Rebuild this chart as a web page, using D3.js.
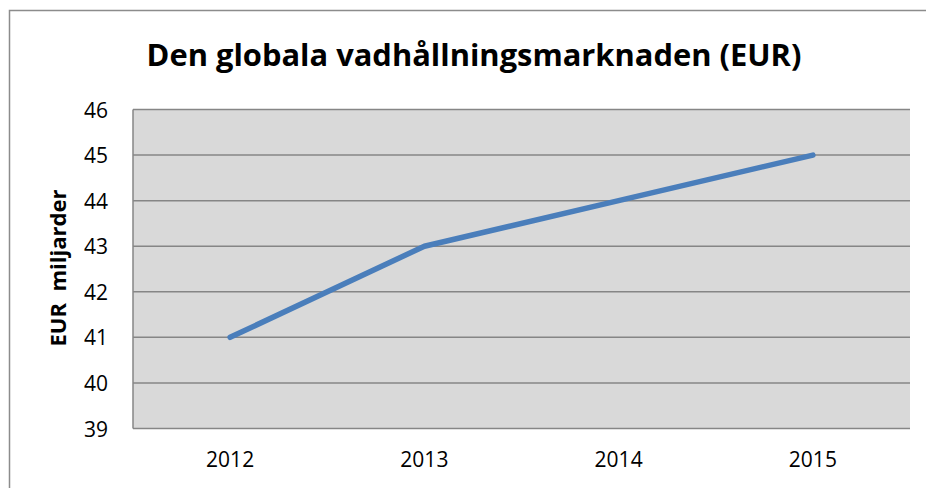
<!DOCTYPE html>
<meta charset="utf-8">
<head>
  <style>
    body { margin: 0; background: #fff; }
    svg { display: block; font-family: "Open Sans", sans-serif; }
    .grid line { stroke: #868686; stroke-width: 1.5px; }
    .tick text { fill: #000; }
  </style>
</head>
<body>
  <script src="https://d3js.org/d3.v7.min.js"></script>
  <div id="chart"></div>
  <script>
    // chart data
    var years = ["2012", "2013", "2014", "2015"];
    var values = [41, 43, 44, 45];
    var yTicks = [39, 40, 41, 42, 43, 44, 45, 46];
    var title = "Den globala vadhållningsmarknaden (EUR)";
    var yLabel = "EUR  miljarder";

    var width = 926, height = 488;
    var plot = { left: 133, right: 910, top: 109.5, bottom: 428.5 };

    var svg = d3.select('#chart').append('svg')
      .attr('width', width)
      .attr('height', height);

    // outer chart border
    svg.append('rect')
      .attr('x', 9.5).attr('y', 10.5)
      .attr('width', 940).attr('height', 500)
      .attr('fill', 'none')
      .attr('stroke', '#8c8c8c')
      .attr('stroke-width', 1.5);

    var x = d3.scaleBand().domain(years).range([plot.left, plot.right]);
    var y = d3.scaleLinear().domain([39, 46]).range([plot.bottom, plot.top]);

    svg.append('rect')
      .attr('x', plot.left).attr('y', plot.top)
      .attr('width', plot.right - plot.left)
      .attr('height', plot.bottom - plot.top)
      .attr('fill', '#d9d9d9');

    // horizontal gridlines
    svg.append('g').attr('class', 'grid')
      .selectAll('line')
      .data(yTicks)
      .enter().append('line')
      .attr('x1', plot.left).attr('x2', plot.right)
      .attr('y1', d => y(d)).attr('y2', d => y(d));

    // left axis line
    svg.append('line')
      .attr('x1', plot.left).attr('x2', plot.left)
      .attr('y1', plot.top).attr('y2', plot.bottom)
      .attr('stroke', '#868686').attr('stroke-width', 1.5);

    var yAxis = svg.append('g')
      .attr('transform', 'translate(' + plot.left + ',0)')
      .call(d3.axisLeft(y).tickValues(yTicks).tickSize(0).tickPadding(25).tickFormat(d3.format('d')));
    yAxis.attr('font-family', null).attr('font-size', null);
    yAxis.select('.domain').remove();
    yAxis.selectAll('text').style('font-size', '21px').attr('dy', '0.36em');

    var xAxis = svg.append('g')
      .attr('transform', 'translate(0,' + plot.bottom + ')')
      .call(d3.axisBottom(x).tickSize(0).tickPadding(24));
    xAxis.attr('font-family', null).attr('font-size', null);
    xAxis.select('.domain').remove();
    xAxis.selectAll('text').style('font-size', '21px');

    var line = d3.line()
      .x((d, i) => x(years[i]) + x.bandwidth() / 2)
      .y(d => y(d));

    svg.append('path')
      .datum(values)
      .attr('d', line)
      .attr('fill', 'none')
      .attr('stroke', '#4a7ebb')
      .attr('stroke-width', 5.5)
      .attr('stroke-linecap', 'round')
      .attr('stroke-linejoin', 'round');

    // title, sized to fit the original width
    var t = svg.append('text')
      .attr('x', 474).attr('y', 66)
      .attr('text-anchor', 'middle')
      .style('font-weight', 'bold')
      .style('font-size', '30px')
      .text(title);
    var tw = t.node().getComputedTextLength();
    t.style('font-size', (30 * 655 / tw) + 'px');

    var yl = svg.append('text')
      .attr('transform', 'translate(66,268) rotate(-90)')
      .attr('text-anchor', 'middle')
      .style('font-weight', 'bold')
      .style('font-size', '17px')
      .style('white-space', 'pre')
      .text(yLabel);
    var lw = yl.node().getComputedTextLength();
    yl.style('font-size', (17 * 157 / lw) + 'px');
  </script>
</body>
